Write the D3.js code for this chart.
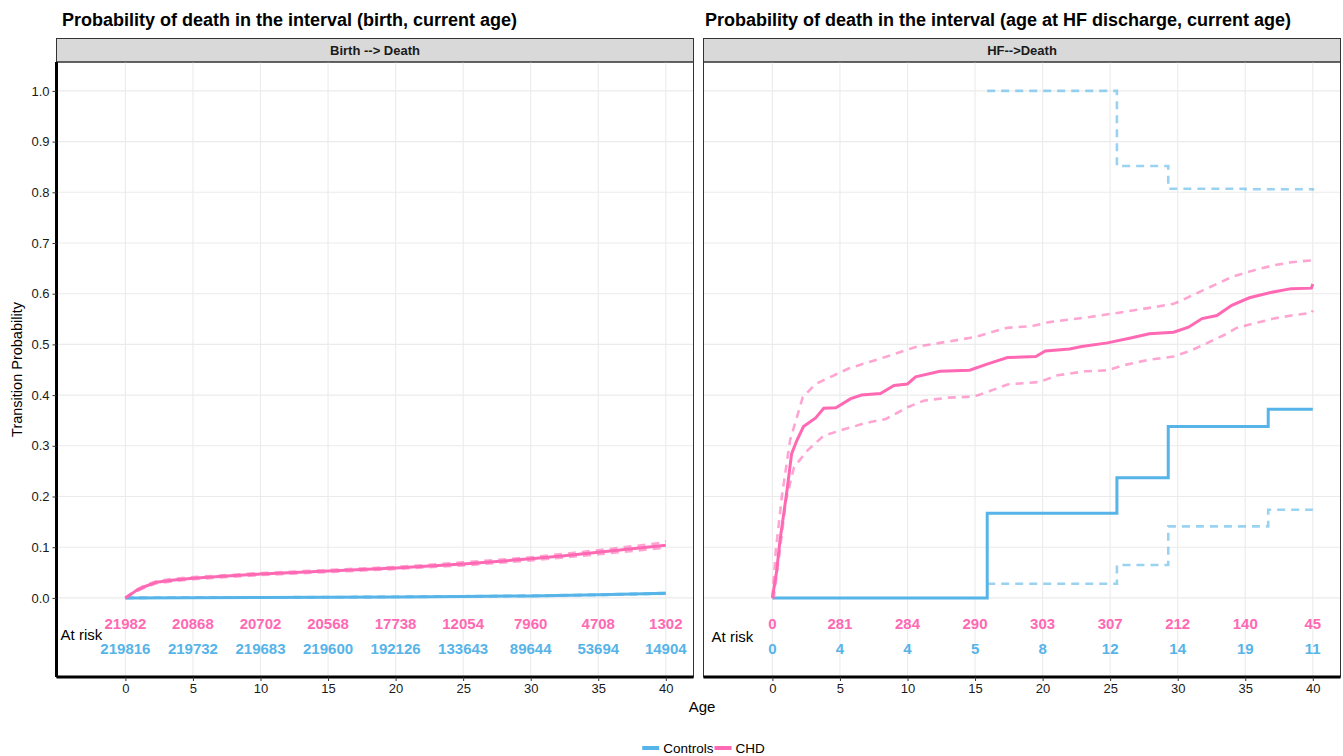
<!DOCTYPE html>
<html>
<head>
<meta charset="utf-8">
<script src="https://cdn.jsdelivr.net/npm/d3@7"></script>
<style>
  body { margin: 0; background: #fff; }
  svg { font-family: 'Liberation Sans', Arial, sans-serif; display: block; }
</style>
</head>
<body>
<svg></svg>
<script>
// at-risk table
const riskAges = [0, 5, 10, 15, 20, 25, 30, 35, 40];
const leftRiskChd = [21982, 20868, 20702, 20568, 17738, 12054, 7960, 4708, 1302];
const leftRiskCtrl = [219816, 219732, 219683, 219600, 192126, 133643, 89644, 53694, 14904];
const rightRiskChd = [0, 281, 284, 290, 303, 307, 212, 140, 45];
const rightRiskCtrl = [0, 4, 4, 5, 8, 12, 14, 19, 11];

const xTicks = [0, 5, 10, 15, 20, 25, 30, 35, 40];
const yTicks = [0, 0.1, 0.2, 0.3, 0.4, 0.5, 0.6, 0.7, 0.8, 0.9, 1.0];

// Birth --> Death  [age, probability]
const leftChd = [[0, 0], [0.4, 0.007], [0.8, 0.0145], [1.4, 0.022], [2.3, 0.031], [3.6, 0.0355], [5, 0.039],
  [7.5, 0.043], [10, 0.047], [12.5, 0.05], [15, 0.053], [17.5, 0.056], [20, 0.059], [22.5, 0.063],
  [25, 0.067], [27.5, 0.072], [30, 0.077], [32.5, 0.083], [35, 0.09], [37.5, 0.097], [40, 0.104]];
const leftChdHi = [[0, 0], [0.8, 0.016], [1.4, 0.024], [2.3, 0.033], [3.6, 0.038], [5, 0.041], [10, 0.049],
  [15, 0.055], [20, 0.061], [25, 0.07], [30, 0.08], [35, 0.094], [39.5, 0.108], [40, 0.112]];
const leftChdLo = [[0, 0], [0.8, 0.013], [1.4, 0.02], [2.3, 0.029], [3.6, 0.033], [5, 0.037], [10, 0.045],
  [15, 0.051], [20, 0.057], [25, 0.064], [30, 0.074], [35, 0.086], [40, 0.099]];
const leftCtrl = [[0, 0], [10, 0.001], [20, 0.002], [25, 0.003], [30, 0.004], [35, 0.006], [40, 0.009]];
const leftCtrlHi = [[0, 0], [10, 0.0012], [20, 0.0023], [25, 0.0034], [30, 0.0045], [35, 0.0066], [40, 0.0098]];
const leftCtrlLo = [[0, 0], [10, 0.0008], [20, 0.0017], [25, 0.0026], [30, 0.0035], [35, 0.0054], [40, 0.0082]];

// HF-->Death
const rightChd = [[0, 0], [0.3, 0.05], [0.56, 0.113], [1.08, 0.212], [1.42, 0.284], [1.8, 0.31], [2.3, 0.338],
  [3.2, 0.355], [3.8, 0.374], [4.7, 0.375], [5.8, 0.393], [6.6, 0.4], [8, 0.403], [9, 0.419], [10, 0.422],
  [10.6, 0.436], [12.4, 0.447], [14.6, 0.449], [16, 0.462], [17.4, 0.474], [19.5, 0.476], [20.2, 0.487],
  [22, 0.491], [22.9, 0.496], [24.8, 0.503], [26.6, 0.513], [27.9, 0.521], [29.7, 0.524], [30.8, 0.534],
  [31.8, 0.551], [32.9, 0.557], [34, 0.577], [35.3, 0.592], [36.8, 0.602], [38.4, 0.61], [39.9, 0.611], [40, 0.619]];
const rightChdHi = [[0, 0], [0.25, 0.093], [0.7, 0.2], [1.3, 0.31], [2.25, 0.396], [3.2, 0.422], [4.4, 0.437],
  [5.6, 0.452], [6.9, 0.463], [8.7, 0.478], [10.6, 0.495], [12.4, 0.503], [14.9, 0.514], [17.4, 0.533],
  [19.2, 0.536], [20.5, 0.544], [23.5, 0.554], [26, 0.564], [27.9, 0.572], [29.7, 0.58], [30.3, 0.587],
  [31.9, 0.607], [34, 0.633], [35.6, 0.646], [37.1, 0.656], [38.4, 0.662], [40, 0.666]];
const rightChdLo = [[0, 0], [0.1, 0], [0.55, 0.093], [1, 0.192], [1.6, 0.258], [2.6, 0.291], [3.8, 0.32],
  [5, 0.33], [6.9, 0.345], [8.4, 0.353], [10, 0.376], [11.2, 0.389], [13, 0.395], [14.9, 0.397],
  [16.1, 0.408], [17.4, 0.421], [19.8, 0.426], [21.1, 0.439], [23.2, 0.447], [24.8, 0.449], [26, 0.459],
  [27.9, 0.47], [29.7, 0.476], [31, 0.488], [32.2, 0.503], [33.4, 0.518], [34.4, 0.533], [35.6, 0.541],
  [37.1, 0.551], [38.4, 0.557], [39.9, 0.562], [40, 0.567]];
const rightCtrl = [[0, 0], [15.9, 0.167], [25.5, 0.237], [29.3, 0.338], [36.7, 0.372], [40, 0.372]];
const rightCtrlHi = [[15.9, 1.0], [25.5, 0.852], [29.3, 0.807], [35, 0.806], [40, 0.803]];
const rightCtrlLo = [[15.9, 0.028], [25.5, 0.065], [29.3, 0.141], [36.7, 0.174], [40, 0.174]];

const width = 1343;
const height = 756;
const blue = '#56B4E9';
const pink = '#FF69B4';

const panelTop = 62;
const panelBottom = 677;
const panelW = 637;

const svg = d3.select('svg').attr('width', width).attr('height', height);

const yScale = d3.scaleLinear().domain([-0.156, 1.057]).range([panelBottom, panelTop]);

const drawPanel = (p) => {
  const x = d3.scaleLinear().domain([-5.1, 42.05]).range([p.left, p.left + panelW]);
  const g = svg.append('g');

  // title + strip
  g.append('text').attr('x', p.titleX).attr('y', 26)
    .attr('font-size', 18).attr('font-weight', 'bold').attr('fill', '#000').text(p.title);
  g.append('rect').attr('x', p.left).attr('y', 38.5).attr('width', panelW).attr('height', panelTop - 38.5)
    .attr('fill', '#D9D9D9').attr('stroke', '#333').attr('stroke-width', 1);
  g.append('text').attr('x', p.left + panelW / 2).attr('y', 55).attr('text-anchor', 'middle')
    .attr('font-size', 13).attr('font-weight', 'bold').attr('fill', '#1A1A1A').text(p.strip);

  // grid
  g.append('g').selectAll('line').data(xTicks).join('line')
    .attr('x1', (d) => x(d)).attr('x2', (d) => x(d))
    .attr('y1', panelTop).attr('y2', panelBottom)
    .attr('stroke', '#EBEBEB').attr('stroke-width', 1.1);
  g.append('g').selectAll('line').data(yTicks).join('line')
    .attr('x1', p.left).attr('x2', p.left + panelW)
    .attr('y1', (d) => yScale(d)).attr('y2', (d) => yScale(d))
    .attr('stroke', '#EBEBEB').attr('stroke-width', 1.1);

  const line = (curve) => d3.line().x((d) => x(d[0])).y((d) => yScale(d[1])).curve(curve);
  const drawLine = (data, color, dashed, curve) => {
    g.append('path').datum(data)
      .attr('d', line(curve))
      .attr('fill', 'none')
      .attr('stroke', color)
      .attr('stroke-opacity', dashed ? 0.6 : 1)
      .attr('stroke-width', dashed ? 2.6 : 3)
      .attr('stroke-dasharray', dashed ? '8,6' : null);
  };
  drawLine(p.ctrlLo, blue, true, p.ctrlCurve);
  drawLine(p.ctrlHi, blue, true, p.ctrlCurve);
  drawLine(p.ctrl, blue, false, p.ctrlCurve);
  drawLine(p.chdLo, pink, true, d3.curveLinear);
  drawLine(p.chdHi, pink, true, d3.curveLinear);
  drawLine(p.chd, pink, false, d3.curveLinear);

  // at risk
  g.append('g').selectAll('text').data(p.riskChd).join('text')
    .attr('x', (d, i) => x(riskAges[i])).attr('y', yScale(-0.05)).attr('dy', '0.35em')
    .attr('text-anchor', 'middle').attr('font-size', 15).attr('font-weight', 'bold')
    .attr('fill', pink).text((d) => d);
  g.append('g').selectAll('text').data(p.riskCtrl).join('text')
    .attr('x', (d, i) => x(riskAges[i])).attr('y', yScale(-0.1)).attr('dy', '0.35em')
    .attr('text-anchor', 'middle').attr('font-size', 15).attr('font-weight', 'bold')
    .attr('fill', blue).text((d) => d);
  g.append('text').attr('x', x(p.riskLabelAt)).attr('y', yScale(p.riskLabelY)).attr('dy', '0.35em')
    .attr('font-size', 15).attr('fill', '#000').text('At risk');

  // border
  g.append('rect').attr('x', p.left).attr('y', panelTop).attr('width', panelW)
    .attr('height', panelBottom - panelTop).attr('fill', 'none').attr('stroke', '#333').attr('stroke-width', 1);

  // x axis
  const xAxis = d3.axisBottom(x).tickValues(xTicks).tickSize(4).tickPadding(3).tickFormat(d3.format('d'));
  const xa = g.append('g').attr('transform', 'translate(0,' + panelBottom + ')').call(xAxis);
  xa.select('.domain').attr('stroke', '#000').attr('stroke-width', 3)
    .attr('d', 'M' + p.left + ',0H' + (p.left + panelW));
  xa.selectAll('.tick line').attr('stroke', '#333');
  xa.selectAll('.tick text').attr('font-size', 13).attr('fill', '#1A1A1A').attr('font-family', null);

  if (p.yAxis) {
    const yAxis = d3.axisLeft(yScale).tickValues(yTicks).tickSize(4).tickPadding(3).tickFormat(d3.format('.1f'));
    const ya = g.append('g').attr('transform', 'translate(' + p.left + ',0)').call(yAxis);
    ya.select('.domain').attr('stroke', '#000').attr('stroke-width', 3)
      .attr('d', 'M0,' + panelTop + 'V' + panelBottom);
    ya.selectAll('.tick line').attr('stroke', '#333');
    ya.selectAll('.tick text').attr('font-size', 13).attr('fill', '#1A1A1A').attr('font-family', null);
  }
};

drawPanel({
  left: 56.5, titleX: 62, title: 'Probability of death in the interval (birth, current age)', strip: 'Birth --> Death',
  chd: leftChd, chdHi: leftChdHi, chdLo: leftChdLo,
  ctrl: leftCtrl, ctrlHi: leftCtrlHi, ctrlLo: leftCtrlLo, ctrlCurve: d3.curveLinear,
  riskChd: leftRiskChd, riskCtrl: leftRiskCtrl, riskLabelAt: -4.8, riskLabelY: -0.072, yAxis: true
});
drawPanel({
  left: 703.5, titleX: 705, title: 'Probability of death in the interval (age at HF discharge, current age)', strip: 'HF-->Death',
  chd: rightChd, chdHi: rightChdHi, chdLo: rightChdLo,
  ctrl: rightCtrl, ctrlHi: rightCtrlHi, ctrlLo: rightCtrlLo, ctrlCurve: d3.curveStepAfter,
  riskChd: rightRiskChd, riskCtrl: rightRiskCtrl, riskLabelAt: -4.5, riskLabelY: -0.076, yAxis: false
});

// axis titles
svg.append('text').attr('x', 702).attr('y', 712).attr('text-anchor', 'middle')
  .attr('font-size', 15).attr('fill', '#000').text('Age');
svg.append('text').attr('transform', 'translate(22,' + (panelTop + panelBottom) / 2 + ') rotate(-90)')
  .attr('text-anchor', 'middle').attr('font-size', 14.5).attr('fill', '#000').text('Transition Probability');

// legend
const legendItems = [{ name: 'Controls', color: blue }, { name: 'CHD', color: pink }];
const legend = svg.append('g');
let lx = 0;
legendItems.forEach((item) => {
  legend.append('line').attr('x1', lx).attr('x2', lx + 17).attr('y1', 0).attr('y2', 0)
    .attr('stroke', item.color).attr('stroke-width', 4);
  const t = legend.append('text').attr('x', lx + 21).attr('y', 0).attr('dy', '0.35em')
    .attr('font-size', 13.5).attr('fill', '#000').text(item.name);
  lx += 21 + t.node().getComputedTextLength() + 1;
});
legend.attr('transform', 'translate(' + (704 - lx / 2) + ',748)');
</script>
</body>
</html>
